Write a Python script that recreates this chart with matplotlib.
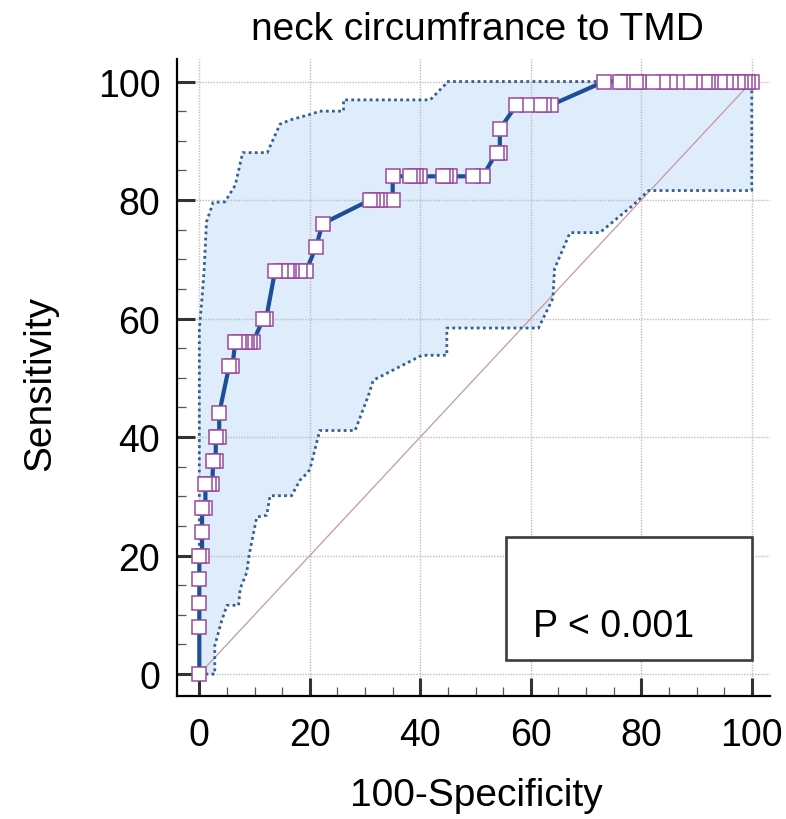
import matplotlib
matplotlib.use("Agg")
import matplotlib.pyplot as plt
from matplotlib.patches import Rectangle
from matplotlib.ticker import MultipleLocator

plt.rcParams['font.family'] = ['Liberation Sans', 'DejaVu Sans']

title = "neck circumfrance to TMD"
x_label = "100-Specificity"
y_label = "Sensitivity"
p_text = "P < 0.001"
tick_values = [0, 20, 40, 60, 80, 100]

# ROC points (100-Specificity, Sensitivity)
roc_fpr = [0, 0, 0, 0, 0, 0.5, 0.5, 0.5, 1.1, 1.1, 1.75, 2.35, 2.5, 2.95, 3.0, 3.6, 3.6,
           5.4, 6.0, 6.5, 7.1, 7.6, 8.2, 8.7, 9.1, 9.7, 11.6, 12.1,
           13.7, 14.7, 15.8, 16.3, 16.8, 18.3, 19.3, 21.1, 22.3,
           30.9, 31.5, 32.1, 32.7, 35.0, 35.0, 38.1, 38.6, 39.2, 39.9, 44.1, 44.7, 45.4,
           49.6, 51.3, 53.8, 54.4, 54.4, 57.4, 59.3, 61.7, 62.4, 63.6,
           73.3, 76.1, 76.7, 79.1, 79.6, 82.2, 83.9, 85.2, 86.5, 88.8, 89.7, 91.5, 92.1,
           92.7, 94.2, 95.4, 96.3, 97.5, 98.1, 98.7, 99.3, 100]
roc_sens = [0, 8, 12, 16, 20, 20, 24, 28, 28, 32, 32, 32, 36, 36, 40, 40, 44,
            52, 52, 56, 56, 56, 56, 56, 56, 56, 60, 60,
            68, 68, 68, 68, 68, 68, 68, 72, 76,
            80, 80, 80, 80, 80, 84, 84, 84, 84, 84, 84, 84, 84,
            84, 84, 88, 88, 92, 96, 96, 96, 96, 96,
            100, 100, 100, 100, 100, 100, 100, 100, 100, 100, 100, 100, 100,
            100, 100, 100, 100, 100, 100, 100, 100, 100]

# 95% confidence bounds
upper_x = [0, 0, 0.4, 0.85, 1.3, 2.5, 4.65, 6.5, 7.85, 12.3, 14.6, 16.4, 20.6, 21.8,
           26.1, 26.1, 41.8, 44.5, 44.8, 100]
upper_y = [0, 58.3, 62.5, 67.9, 76.3, 79.6, 79.7, 82.5, 88.0, 88.0, 92.8, 93.5, 94.6, 95.0,
           95.0, 96.9, 96.9, 99.5, 100, 100]
lower_x = [0, 2.8, 2.8, 4.05, 5.0, 7.1, 7.4, 8.6, 9.0, 10.4, 12.2, 12.8, 16.7, 18.2, 19.4,
           20.0, 21.8, 28.2, 30.6, 31.5, 40.3, 44.8, 44.8, 61.4, 64.0, 64.3, 67.1, 72.5,
           78.6, 81.3, 100, 100]
lower_y = [0, 0, 4.8, 9.0, 11.6, 11.6, 14.4, 17.2, 20.0, 26.5, 26.8, 30.1, 30.1, 32.7, 33.8,
           34.5, 41.1, 41.1, 47.0, 49.6, 53.8, 53.8, 58.4, 58.4, 63.4, 68.4, 74.5, 74.5,
           79.2, 81.6, 81.6, 100]

fig = plt.figure(figsize=(7.86, 8.2), dpi=100)
ax = fig.add_axes([177 / 786, 1 - 697 / 820, (770 - 177) / 786, (697 - 60) / 820])
ax.set_xlim(-4.04, 103.3)
ax.set_ylim(-3.7, 103.8)

# confidence band fill
poly_x = upper_x + lower_x[::-1]
poly_y = upper_y + lower_y[::-1]
ax.fill(poly_x, poly_y, color='#deecfb', lw=0, zorder=1)

# grid
ax.set_axisbelow('line')
ax.grid(True, which='major', color='#bdbdbd', linestyle=(0, (1, 1)), lw=1.0)

# diagonal reference
ax.plot([0, 100], [0, 100], color='#c49a9a', lw=0.9, zorder=2)

# CI lines
ci_color = '#36608c'
ax.plot(upper_x, upper_y, color=ci_color, lw=2.0, linestyle=(0, (1, 1.2)), zorder=2.2)
ax.plot(lower_x, lower_y, color=ci_color, lw=2.0, linestyle=(0, (1, 1.2)), zorder=2.2)

# ROC curve
ax.plot(roc_fpr, roc_sens, color='#1c4f98', lw=3.0, zorder=2.5, solid_capstyle='round')
ax.plot(roc_fpr[::-1], roc_sens[::-1], linestyle='none', marker='s', markersize=10,
        markerfacecolor='white', markeredgecolor='#9a4a9e', markeredgewidth=1.1, zorder=2.6)

# P-value box
ax.add_patch(Rectangle((55.5, 2.4), 44.5, 20.8, facecolor='white', edgecolor='#3c3c3c',
                       lw=1.9, zorder=3))
ax.text(60.4, 6.4, p_text, fontsize=27, ha='left', va='baseline', zorder=4)

# spines & ticks
for s in ['top', 'right']:
    ax.spines[s].set_visible(False)
for s in ['left', 'bottom']:
    ax.spines[s].set_linewidth(1.6)
    ax.spines[s].set_color('black')

ax.set_xticks(tick_values)
ax.set_yticks(tick_values)
ax.xaxis.set_minor_locator(MultipleLocator(5))
ax.yaxis.set_minor_locator(MultipleLocator(5))
ax.tick_params(which='major', direction='in', length=13, width=2.2, color='#333333',
               labelsize=27)
ax.tick_params(which='minor', direction='in', length=6.5, width=0.9, color='#555555')
ax.tick_params(axis='y', which='major', pad=12)
ax.tick_params(axis='x', which='major', pad=15)

fig.text(477 / 786, 1 - 30 / 820, title, fontsize=28, ha='center', va='center')
fig.text(476 / 786, 1 - 796 / 820, x_label, fontsize=28, ha='center', va='center')
fig.text(40 / 786, 1 - 383 / 820, y_label, fontsize=28, ha='center', va='center', rotation=90)

fig.savefig('out.png', dpi=100)
